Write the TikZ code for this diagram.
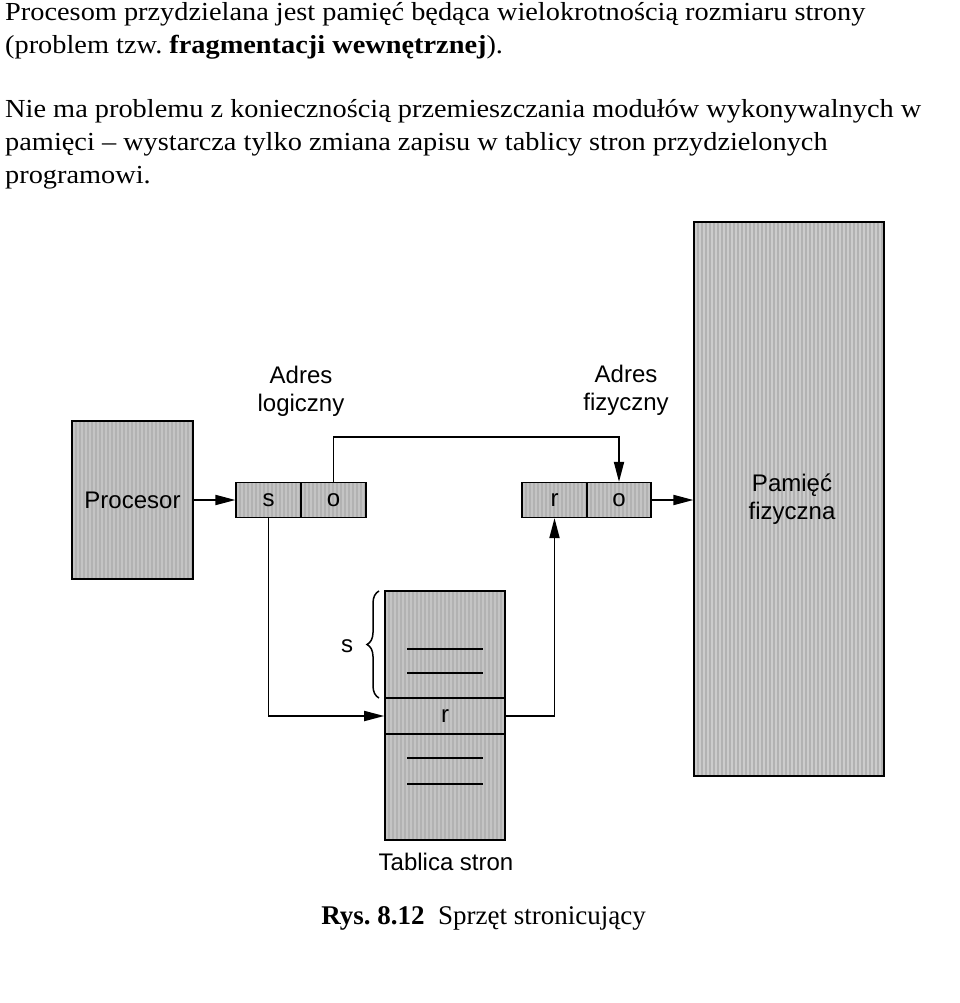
\documentclass[tikz,border=0pt]{standalone}
\usepackage{fontspec}
\setmainfont{Liberation Serif}
\newfontfamily\bodyfont{Liberation Serif}[FakeStretch=1.09]
\newfontfamily\arial{Liberation Sans}
\usetikzlibrary{arrows.meta,decorations.pathreplacing}
\definecolor{boxgray}{RGB}{196,196,196}
\definecolor{memgray}{RGB}{204,204,204}
\definecolor{stripegray}{RGB}{178,178,178}
\frenchspacing
\tikzset{
  stripes/.style={path picture={
    \foreach \sx in {0,4,...,200}
      \draw[stripegray,line width=1.1pt]
        ([xshift=\sx pt]path picture bounding box.south west) --
        ([xshift=\sx pt]path picture bounding box.north west);}},
  gbox/.style={draw=black,line width=1.2pt,fill=boxgray,stripes,inner sep=0pt,
    font=\arial\fontsize{24}{27}\selectfont},
  lbl/.style={font=\arial\fontsize{24}{28}\selectfont,align=center,inner sep=0pt},
  txt/.style={anchor=base west,inner sep=0pt,font=\bodyfont\fontsize{26}{31}\selectfont},
  arr/.style={line width=1.8pt,-{Triangle[length=20pt,width=10pt]}},
  tline/.style={line width=1.3pt}
}
\begin{document}
\begin{tikzpicture}[x=1pt,y=-1pt]
\useasboundingbox (0,0) rectangle (960,1003);
\fill[white] (0,0) rectangle (960,1003);

% text paragraphs
\node[txt] (t1) at (5,21) {Procesom przydzielana jest pamięć będąca wielokrotnością rozmiaru strony};
\node[txt] (t2) at (5,53.5) {(problem tzw. \textbf{fragmentacji wewnętrznej}).};
\node[txt] (t3) at (5,118) {Nie ma problemu z koniecznością przemieszczania modułów wykonywalnych w};
\node[txt] (t4) at (5,150.5) {pamięci – wystarcza tylko zmiana zapisu w tablicy stron przydzielonych};
\node[txt] (t5) at (5,183) {programowi.};

% boxes
\node[gbox,minimum width=121pt,minimum height=158pt] (proc) at (132.5,500) {Procesor};
\node[gbox,minimum width=65pt,minimum height=35pt] (ls) at (268.5,500) {s};
\node[gbox,minimum width=65pt,minimum height=35pt] (lo) at (333.5,500) {o};
\node[gbox,minimum width=65pt,minimum height=35pt] (pr) at (554.5,500) {r};
\node[gbox,minimum width=64pt,minimum height=35pt] (po) at (619,500) {o};
\node[gbox,fill=memgray,minimum width=190pt,minimum height=554pt] (mem) at (789,499) {};
\node[lbl] (memlbl) at (792,499) {Pamięć\\fizyczna};
\node[gbox,minimum width=120pt,minimum height=249pt] (tab) at (445,715.5) {};
\node[gbox,line width=1.6pt,minimum width=120pt,minimum height=36pt] (rowr) at (445,716) {r};

% table lines
\draw[tline] (407,649) -- (483,649);
\draw[tline] (407,673) -- (483,673);
\draw[tline] (407,758) -- (483,758);
\draw[tline] (407,784) -- (483,784);

% brace
\coordinate (bb) at (379,698);
\coordinate (bt) at (379,591);
\draw[line width=1.5pt,decorate,decoration={brace,amplitude=12pt}] (bb) -- (bt);
\node[lbl] (slbl) at (347,646) {s};

% labels
\node[lbl] (adrl) at (301,391) {Adres\\logiczny};
\node[lbl] (adrf) at (626,390) {Adres\\fizyczny};
\node[lbl] (tablbl) at (446,862) {Tablica stron};
\node[inner sep=0pt,font=\fontsize{27}{30}\selectfont] (cap) at (483.5,918) {\textbf{Rys. 8.12}\hspace{0.5em}Sprzęt stronicujący};

% connectors
\draw[arr] (proc.east) -- (ls.west);
\draw[arr] (lo.north) -- ([yshift=45pt]lo.north) -| (po.north);
\draw[arr] (po.east) -- (po.east -| mem.west);
\draw[arr] (ls.south) |- (rowr.west);
\draw[arr] (rowr.east) -| (pr.south);
\end{tikzpicture}
\end{document}
